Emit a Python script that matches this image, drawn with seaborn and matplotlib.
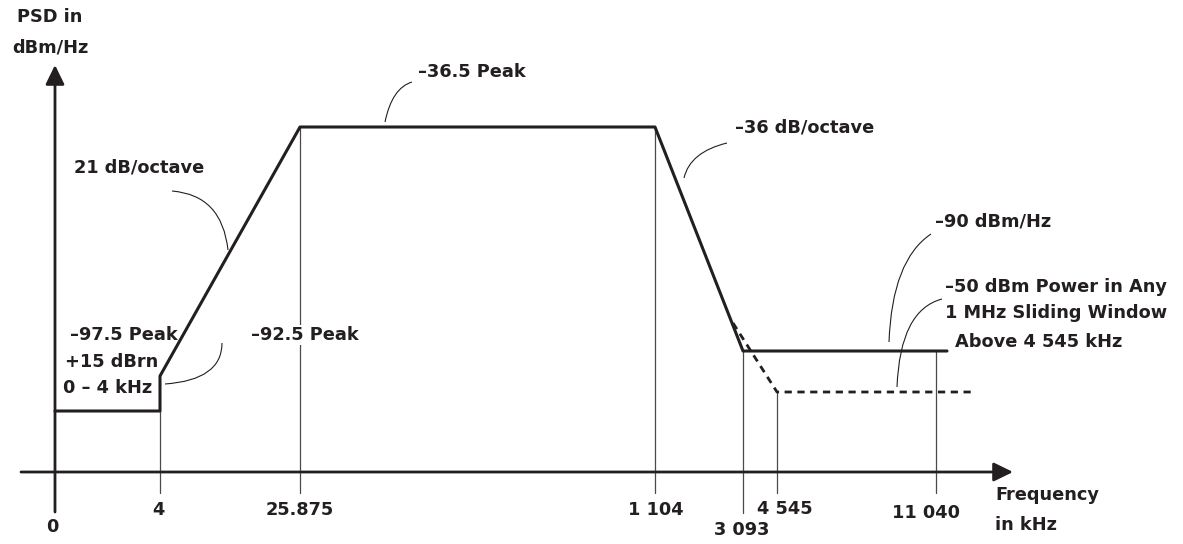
"""
ADSL transmit PSD mask - schematic sketch (axes not to scale)
"""

import matplotlib
matplotlib.use('Agg')
import matplotlib.pyplot as plt
from matplotlib.path import Path
from matplotlib.patches import PathPatch
import pandas as pd
import seaborn as sns

# Frequency breakpoints and their (schematic, not-to-scale) positions
freq_labels = ['0', '4', '25.875', '1 104', '3 093', '4 545', '11 040']
freq_pos = [0, 105, 245, 600, 688, 722, 881]
drop_top = [None, 61, 345, 345, 121, 80, 121]   # where the thin drop lines start

# PSD mask (schematic heights above the frequency axis)
mask_x = [0, 105, 105, 245, 600, 688, 892]
mask_y = [61, 61, 96, 345, 345, 121, 121]

# -50 dBm sliding window limit (dashed)
window_x = [678, 722, 920]
window_y = [149, 80, 80]

INK = '#231f20'
THIN = '#4a4a4a'

sns.set_theme(style='white')
plt.rcParams['font.family'] = ['DejaVu Sans']
FS = 12.8

fig = plt.figure(figsize=(11.83, 5.44), dpi=100)
ax = fig.add_axes([0, 0, 1, 1])
ax.set_xlim(-55, 1128)
ax.set_ylim(-72, 472)
ax.axis('off')

mask = pd.DataFrame({'x': mask_x, 'y': mask_y})
window = pd.DataFrame({'x': window_x, 'y': window_y})
sns.lineplot(data=mask, x='x', y='y', sort=False, estimator=None,
             color=INK, lw=2.2, ax=ax, zorder=4)
sns.lineplot(data=window, x='x', y='y', sort=False, estimator=None,
             color=INK, lw=2.0, ax=ax, zorder=3)
ax.lines[-1].set_linestyle((0, (2.6, 2.0)))

# axes with arrows
arrow = dict(arrowstyle='-|>,head_length=0.45,head_width=0.22', lw=2,
             color=INK, mutation_scale=26, shrinkA=0, shrinkB=0)
ax.annotate('', xy=(958, 0), xytext=(-34, 0), arrowprops=arrow, zorder=5)
ax.annotate('', xy=(0, 407), xytext=(0, -40), arrowprops=arrow, zorder=5)

# thin drop lines and tick labels
label_y = [-55, -38, -38, -38, -58, -37, -41]
label_dx = [-3, -2, 0, 1, -1, 8, -10]
for i, (lab, xp) in enumerate(zip(freq_labels, freq_pos)):
    if drop_top[i] is not None:
        bottom = -41 if lab == '3 093' else -21
        ax.plot([xp, xp], [drop_top[i], bottom], color=THIN, lw=0.9, zorder=2)
    ax.text(xp + label_dx[i], label_y[i], lab, ha='center', va='center',
            fontsize=FS, fontweight='bold', color=INK)

# text annotations
def note(x, y, s, ha='left', bg=False):
    t = ax.text(x, y, s, ha=ha, va='center', fontsize=FS,
                fontweight='bold', color=INK, zorder=6)
    if bg:
        t.set_bbox(dict(facecolor='white', edgecolor='none', pad=1))
    return t

note(-5, 455, 'PSD in', ha='center')
note(-5, 425, 'dBm/Hz', ha='center')
note(19, 304, '21 dB/octave')
note(363, 400, '–36.5 Peak')
note(680, 344, '–36 dB/octave')
note(880, 250, '–90 dBm/Hz')
note(890, 185, '–50 dBm Power in Any')
note(890, 159, '1 MHz Sliding Window')
note(900, 130, 'Above 4 545 kHz')
note(15, 137, '–97.5 Peak')
note(10, 110, '+15 dBrn')
note(8, 84, '0 – 4 kHz')
note(196, 137, '–92.5 Peak', bg=True)
note(940, -23, 'Frequency')
note(940, -53, 'in kHz')

# curved leader lines
leaders = [
    ((117, 281), (167, 277), (173, 222)),
    ((357, 390), (337, 384), (330, 350)),
    ((672, 329), (635, 320), (629, 294)),
    ((876, 238), (837, 212), (834, 130)),
    ((887, 173), (845, 162), (842, 85)),
    ((167, 129), (167, 92), (110, 88)),
]
for p0, c, p1 in leaders:
    path = Path([p0, c, p1], [Path.MOVETO, Path.CURVE3, Path.CURVE3])
    ax.add_patch(PathPatch(path, fill=False, edgecolor=INK, lw=0.8, zorder=5))

plt.savefig('out.png', dpi=100)
plt.close()
